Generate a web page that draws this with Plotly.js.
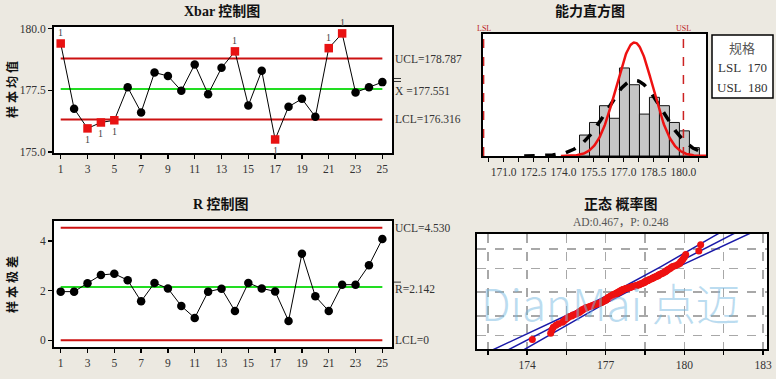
<!DOCTYPE html>
<html><head><meta charset="utf-8">
<script src="https://cdn.plot.ly/plotly-3.0.1.min.js"></script>
<style>html,body{margin:0;padding:0;background:#ECE9E1;}#chart{width:776px;height:379px;}</style>
</head><body><div id="chart"></div>
<script>
// ---------- data ----------
const subgroups = [1,2,3,4,5,6,7,8,9,10,11,12,13,14,15,16,17,18,19,20,21,22,23,24,25];
const xbarValues = [179.40,176.75,175.95,176.19,176.28,177.62,176.60,178.22,178.08,177.48,178.55,177.34,178.41,179.08,176.88,178.29,175.50,176.83,177.15,176.42,179.21,179.81,177.41,177.62,177.83];
const xbarUCL = 178.787, xbarCenter = 177.551, xbarLCL = 176.316;
const rangeValues = [1.96,1.96,2.30,2.63,2.68,2.42,1.57,2.31,2.09,1.38,0.90,1.96,2.08,1.18,2.31,2.09,1.97,0.78,3.49,1.77,1.18,2.24,2.24,3.02,4.08];
const rUCL = 4.530, rCenter = 2.142, rLCL = 0;
const histBinCenters = [175.05,175.55,176.05,176.55,177.05,177.55,178.05,178.55,179.05,179.55,180.05,180.55];
const histCounts = [5,8,12,9,21,17,10,14,12,8,6,2];
const histBinWidth = 0.5;
const LSL = 170, USL = 180;
const processMean = 177.551, sigmaWithin = 0.921, sigmaOverall = 1.38, sampleSize = 125;
const individualValues = [174.2,
 174.9,174.95,175.0,175.1,175.2,
 175.35,175.4,175.45,175.5,175.55,175.6,175.7,175.75,
 175.85,175.9,175.95,176.0,176.0,176.05,176.1,176.1,176.15,176.2,176.25,176.25,
 176.35,176.4,176.45,176.5,176.55,176.6,176.65,176.7,176.75,
 176.8,176.85,176.85,176.9,176.9,176.95,177.0,177.0,177.0,177.05,177.05,177.1,177.1,177.1,177.15,177.15,177.2,177.2,177.25,177.25,177.28,
 177.32,177.35,177.4,177.4,177.45,177.45,177.5,177.5,177.55,177.55,177.6,177.6,177.65,177.65,177.7,177.75,177.78,
 177.85,177.9,177.95,178.0,178.05,178.1,178.15,178.2,178.25,178.28,
 178.32,178.35,178.4,178.45,178.45,178.5,178.5,178.55,178.6,178.6,178.65,178.7,178.75,178.78,
 178.82,178.85,178.9,178.95,179.0,179.0,179.05,179.1,179.15,179.2,179.25,179.28,
 179.32,179.35,179.4,179.45,179.5,179.55,179.65,179.75,
 179.82,179.85,179.9,179.95,180.0,180.05,
 180.55,180.62];
const probGridPercents = [1,10,50,90,99];
const histTickVals = [170.25,171.0,171.75,172.5,173.25,174.0,174.75,175.5,176.25,177.0,177.75,178.5,179.25,180.0,180.75];
const histTickText = ['','171.0','','172.5','','174.0','','175.5','','177.0','','178.5','','180.0',''];
const probTickVals = [172.5,174,175.5,177,178.5,180,181.5,183];
const probTickText = ['','174','','177','','180','','183'];

// ---------- helpers ----------
const W = 776, H = 379;
const dx = (a,b) => [a/W, b/W];
const dy = (t,b) => [1-b/H, 1-t/H];
function erf(x){const s=Math.sign(x);x=Math.abs(x);const t=1/(1+0.3275911*x);
 const y=1-(((((1.061405429*t-1.453152027)*t)+1.421413741)*t-0.284496736)*t+0.254829592)*t*Math.exp(-x*x);return s*y;}
const normCdf = z => 0.5*(1+erf(z/Math.SQRT2));
function normInv(p){let lo=-8,hi=8;for(let i=0;i<80;i++){const m=(lo+hi)/2;if(normCdf(m)<p)lo=m;else hi=m;}return (lo+hi)/2;}
const normPdf = (x,m,s) => Math.exp(-0.5*((x-m)/s)**2)/(s*Math.sqrt(2*Math.PI));

const serif = 'Liberation Serif, Noto Sans CJK SC, serif';
const tickFont = {family: serif, size: 11.5, color: '#333'};
const red = '#E81212', black = '#000';

// ---------- traces ----------
const traces = [];
function limitLine(y, color, xa, ya){
  traces.push({x:[subgroups[0], subgroups[subgroups.length-1]], y:[y,y], mode:'lines', line:{color:color,width:2}, xaxis:xa, yaxis:ya, hoverinfo:'skip'});
}
limitLine(xbarUCL, '#CC1111', 'x', 'y');
limitLine(xbarLCL, '#CC1111', 'x', 'y');
limitLine(xbarCenter, '#22DD22', 'x', 'y');
const xbarOut = xbarValues.map(v => v > xbarUCL || v < xbarLCL);
traces.push({x:subgroups, y:xbarValues, mode:'lines+markers', xaxis:'x', yaxis:'y',
  line:{color:black,width:1},
  marker:{size:8.5, symbol:xbarOut.map(o=>o?'square':'circle'), color:xbarOut.map(o=>o?red:black), line:{width:0}}});

limitLine(rUCL, '#CC1111', 'x2', 'y2');
limitLine(rLCL, '#CC1111', 'x2', 'y2');
limitLine(rCenter, '#22DD22', 'x2', 'y2');
traces.push({x:subgroups, y:rangeValues, mode:'lines+markers', xaxis:'x2', yaxis:'y2',
  line:{color:black,width:1}, marker:{size:8.5, color:black}});

// histogram
traces.push({type:'bar', x:histBinCenters, y:histCounts, width:histBinWidth, xaxis:'x3', yaxis:'y3',
  marker:{color:'#C6C6C6', line:{color:'#111', width:1}}});
function fitCurve(sigma){
  const xs=[], ys=[]; const n=240;
  for(let i=0;i<=n;i++){const x=processMean-4*sigma+8*sigma*i/n; xs.push(x); ys.push(sampleSize*histBinWidth*normPdf(x,processMean,sigma));}
  return {xs, ys};
}
const cw = fitCurve(sigmaWithin), co = fitCurve(sigmaOverall);
traces.push({x:co.xs, y:co.ys, mode:'lines', xaxis:'x3', yaxis:'y3', line:{color:black, width:3.5, dash:'dash'}});
traces.push({x:cw.xs, y:cw.ys, mode:'lines', xaxis:'x3', yaxis:'y3', line:{color:'#EE1111', width:2.5}});

// probability plot
const sorted = individualValues.slice().sort((a,b)=>a-b);
const nInd = sorted.length;
const zScores = sorted.map((v,i)=>normInv((i+1-0.3)/(nInd+0.4)));
const zLine=[], fitX=[], loX=[], hiX=[];
for(let i=0;i<=120;i++){
  const z=-3.4+6.8*i/120; zLine.push(z);
  const c=processMean+z*sigmaOverall;
  const se=sigmaOverall*Math.sqrt(1/nInd + z*z/(2*(nInd-1)));
  fitX.push(c); loX.push(c-1.96*se); hiX.push(c+1.96*se);
}
[loX, fitX, hiX].forEach(xs=>traces.push({x:xs, y:zLine, mode:'lines', xaxis:'x4', yaxis:'y4', line:{color:'#1A1AA8', width:1.5}}));
traces.push({x:sorted, y:zScores, mode:'markers', xaxis:'x4', yaxis:'y4', marker:{size:7, color:'#EE1111'}});

// ---------- layout ----------
const boxAxis = {showline:true, mirror:true, linecolor:black, linewidth:2, zeroline:false, showgrid:false,
  ticks:'outside', ticklen:4, tickcolor:black, tickwidth:1.5, tickfont:tickFont, fixedrange:true};
const annotations = [];
const ann = (o) => annotations.push(Object.assign({showarrow:false, xref:'paper', yref:'paper', xanchor:'center', yanchor:'middle',
  font:{family:serif, size:11.5, color:'#333'}}, o));
const titleFont = {family:serif, size:14, color:'#111', weight:'bold'};
ann({text:'Xbar 控制图', x:222/W, y:1-11/H, font:titleFont});
ann({text:'R 控制图', x:221/W, y:1-204/H, font:titleFont});
ann({text:'能力直方图', x:590/W, y:1-11/H, font:titleFont});
ann({text:'正态 概率图', x:621/W, y:1-204/H, font:titleFont});
ann({text:'AD:0.467，P: 0.248', x:621/W, y:1-222/H, font:{family:serif, size:11.5, color:'#555'}});
ann({text:'样 本 均 值', x:12/W, y:1-90/H, textangle:-90, font:{family:serif, size:12, color:'#111', weight:'bold'}});
ann({text:'样 本 极 差', x:12/W, y:1-285/H, textangle:-90, font:{family:serif, size:12, color:'#111', weight:'bold'}});
// limit labels
const lx = 393/W;
ann({text:'UCL='+xbarUCL.toFixed(3), x:lx, xanchor:'left', yref:'y', y:xbarUCL});
ann({text:'X =' + xbarCenter.toFixed(3), x:lx, xanchor:'left', yref:'y', y:xbarCenter, yshift:-2});
ann({text:'LCL='+xbarLCL.toFixed(3), x:lx, xanchor:'left', yref:'y', y:xbarLCL});
ann({text:'UCL='+rUCL.toFixed(3), x:lx, xanchor:'left', yref:'y2', y:rUCL});
ann({text:'R=' + rCenter.toFixed(3), x:lx, xanchor:'left', yref:'y2', y:rCenter, yshift:-2});
ann({text:'LCL='+rLCL, x:lx, xanchor:'left', yref:'y2', y:rLCL});
// out-of-control flags
xbarValues.forEach((v,i)=>{
  if(xbarOut[i]) ann({text:'1', xref:'x', yref:'y', x:subgroups[i], y:v, yshift: v>xbarUCL?11:-11, font:{family:serif, size:10, color:'#444'}});
});
// spec labels
ann({text:'LSL', xref:'x3', x:LSL, yref:'paper', y:1-29/H, font:{family:serif, size:8, color:'#B22'}});
ann({text:'USL', xref:'x3', x:USL, yref:'paper', y:1-29/H, font:{family:serif, size:8, color:'#B22'}});
// spec box
ann({text:'规格', x:742/W, y:1-48/H, font:{family:serif, size:13, color:'#555'}});
ann({text:'LSL&nbsp;&nbsp;'+LSL, x:742/W, y:1-68/H, font:{family:serif, size:13, color:'#333'}});
ann({text:'USL&nbsp;&nbsp;'+USL, x:742/W, y:1-88/H, font:{family:serif, size:13, color:'#333'}});
// watermark
ann({text:'DianMai 点迈', x:610/W, y:1-302/H, font:{family:'Noto Sans CJK SC, Noto Sans, sans-serif', size:44, color:'rgba(120,185,225,0.5)', weight:300}});

// bar marks above X (double) and R (single), drawn as short pixel lines
const barMark = (yref, yval, dyPx) => ({type:'line', xref:'paper', x0:1, x1:8, xsizemode:'pixel', xanchor:lx,
  yref:yref, ysizemode:'pixel', yanchor:yval, y0:dyPx, y1:dyPx, line:{color:'#333', width:1}});

const shapes = [
  {type:'rect', xref:'paper', yref:'paper', x0:712/W, x1:773/W, y0:1-98/H, y1:1-35/H, fillcolor:'#fff', line:{color:black, width:1.5}, layer:'below'},
  {type:'line', xref:'x3', yref:'y3 domain', x0:LSL, x1:LSL, y0:0, y1:1, line:{color:'#C22', width:1.5, dash:'dash'}},
  {type:'line', xref:'x3', yref:'y3 domain', x0:USL, x1:USL, y0:0, y1:1, line:{color:'#C22', width:1.5, dash:'dash'}},
  barMark('y', xbarCenter, 7.5), barMark('y', xbarCenter, 10.5), barMark('y2', rCenter, 5)
];

const layout = {
  width:W, height:H, margin:{l:0,r:0,t:0,b:0}, showlegend:false,
  paper_bgcolor:'#ECE9E1', plot_bgcolor:'#fff',
  xaxis: Object.assign({}, boxAxis, {domain:dx(54,392), anchor:'y', range:[0.5,25.72], tickvals:subgroups.filter(s=>s%2===1)}),
  yaxis: Object.assign({}, boxAxis, {domain:dy(27,153), anchor:'x', range:[174.95,180.07], tickvals:[175,177.5,180], tickformat:'.1f'}),
  xaxis2: Object.assign({}, boxAxis, {domain:dx(54,392), anchor:'y2', range:[0.5,25.72], tickvals:subgroups.filter(s=>s%2===1)}),
  yaxis2: Object.assign({}, boxAxis, {domain:dy(221,347), anchor:'x2', range:[-0.27,4.805], tickvals:[0,2,4]}),
  xaxis3: Object.assign({}, boxAxis, {domain:dx(483,706), anchor:'y3', range:[169.97,181.13], tickvals:histTickVals, ticktext:histTickText}),
  yaxis3: Object.assign({}, boxAxis, {domain:dy(34,156), anchor:'x3', range:[0,29.1], ticks:'', showticklabels:false}),
  xaxis4: Object.assign({}, boxAxis, {domain:dx(477,767), anchor:'y4', range:[172.09,183.15], tickvals:probTickVals, ticktext:probTickText,
     showgrid:true, gridcolor:'#A8A8A8', gridwidth:1.5, griddash:'dash'}),
  yaxis4: Object.assign({}, boxAxis, {domain:dy(234,349), anchor:'x4', range:[-3.05,3.12], ticks:'', showticklabels:false,
     tickvals:probGridPercents.map(p=>normInv(p/100)), showgrid:true, gridcolor:'#A8A8A8', gridwidth:1.5, griddash:'dash'}),
  annotations, shapes, bargap:0
};
Plotly.newPlot('chart', traces, layout, {staticPlot:true, displayModeBar:false});
</script></body></html>
